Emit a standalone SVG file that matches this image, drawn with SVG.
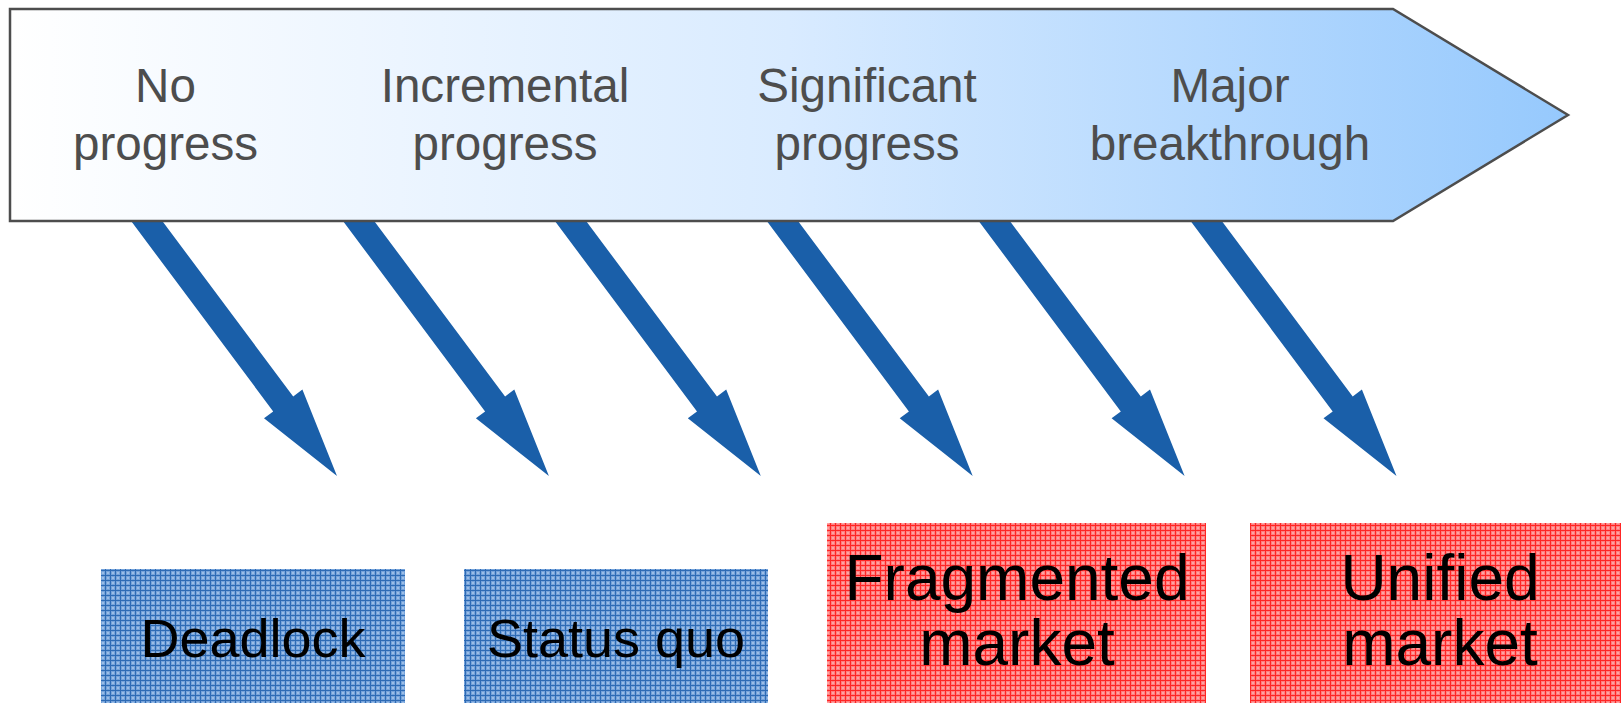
<svg xmlns="http://www.w3.org/2000/svg" width="1621" height="703" viewBox="0 0 1621 703">
  <defs>
    <linearGradient id="bandGrad" x1="10" y1="0" x2="1568" y2="0" gradientUnits="userSpaceOnUse">
      <stop offset="0" stop-color="#ffffff"/>
      <stop offset="0.5" stop-color="#d9ebff"/>
      <stop offset="1" stop-color="#96c9fd"/>
    </linearGradient>
    <pattern id="bluePat" x="0" y="0" width="5" height="5" patternUnits="userSpaceOnUse">
      <rect width="5" height="5" fill="#76a3da"/>
      <rect x="2" y="2" width="2" height="2" fill="#9bbde6"/>
      <rect x="0" y="0" width="5" height="1" fill="#2e6bb5"/>
      <rect x="0" y="0" width="1" height="5" fill="#2e6bb5"/>
    </pattern>
    <pattern id="redPat" x="0" y="0" width="5" height="5" patternUnits="userSpaceOnUse">
      <rect width="5" height="5" fill="#ff8080"/>
      <rect x="2" y="2" width="2" height="2" fill="#ffa3a3"/>
      <rect x="0" y="0" width="5" height="1" fill="#ff2626"/>
      <rect x="0" y="0" width="1" height="5" fill="#ff2626"/>
    </pattern>
    <path id="arrowShape" d="M126.6,215 L157.8,215 L293.2,396.4 L302.4,389.5 L337,476 L264,418.3 L273.2,411.4 Z"/>
  </defs>
  <style>
    .arrow { fill: #1a5fa9; }
    .band { fill: url(#bandGrad); stroke: #4d4d4d; stroke-width: 2.5; stroke-linejoin: miter; }
    .stage { font-family: "Liberation Sans", Arial, sans-serif; font-size: 47.6px; fill: #4d4d4d; text-anchor: middle; }
    .outcome { font-family: "Liberation Sans", Arial, sans-serif; fill: #000000; text-anchor: middle; }
    .small { font-size: 54px; }
    .big { font-size: 64px; }
  </style>

  <g id="connectors">
    <use href="#arrowShape" class="arrow"/>
    <use href="#arrowShape" class="arrow" transform="translate(211.9,0)"/>
    <use href="#arrowShape" class="arrow" transform="translate(423.8,0)"/>
    <use href="#arrowShape" class="arrow" transform="translate(635.7,0)"/>
    <use href="#arrowShape" class="arrow" transform="translate(847.6,0)"/>
    <use href="#arrowShape" class="arrow" transform="translate(1059.5,0)"/>
  </g>

  <g id="progress-band">
    <polygon class="band" points="10,9 1393,9 1568,115 1393,221 10,221"/>
    <text class="stage" x="165.5" y="102">No</text>
    <text class="stage" x="165.5" y="160">progress</text>
    <text class="stage" x="505" y="102">Incremental</text>
    <text class="stage" x="505" y="160">progress</text>
    <text class="stage" x="867" y="102">Significant</text>
    <text class="stage" x="867" y="160">progress</text>
    <text class="stage" x="1230" y="102">Major</text>
    <text class="stage" x="1230" y="160">breakthrough</text>
  </g>

  <g id="deadlock">
    <rect x="101" y="569" width="304" height="140" fill="url(#bluePat)"/>
    <text class="outcome small" x="253" y="657">Deadlock</text>
  </g>

  <g id="status-quo">
    <rect x="464" y="569" width="304" height="140" fill="url(#bluePat)"/>
    <text class="outcome small" x="616" y="657">Status quo</text>
  </g>

  <g id="fragmented-market">
    <rect x="827" y="523" width="379" height="186" fill="url(#redPat)"/>
    <text class="outcome big" x="1017" y="600">Fragmented</text>
    <text class="outcome big" x="1017" y="665">market</text>
  </g>

  <g id="unified-market">
    <rect x="1250" y="523" width="375" height="186" fill="url(#redPat)"/>
    <text class="outcome big" x="1440" y="600">Unified</text>
    <text class="outcome big" x="1440" y="665">market</text>
  </g>
</svg>
